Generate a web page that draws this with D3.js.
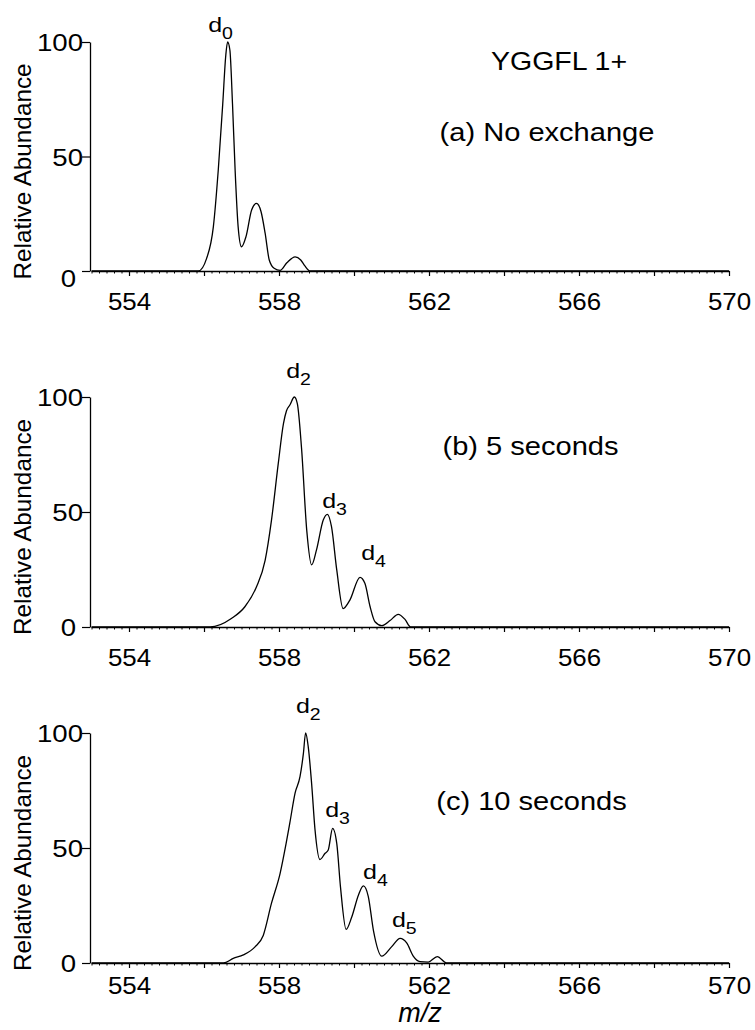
<!DOCTYPE html>
<html>
<head>
<meta charset="utf-8">
<script src="https://cdn.jsdelivr.net/npm/d3@7"></script>
<style>
  body { margin: 0; background: #fff; }
  text { font-family: "Liberation Sans", Arial, Helvetica, sans-serif; fill: #000; }
</style>
</head>
<body>
<script>
// ---------- data ----------
const mzA = [553, 555.85, 556.07, 556.25, 556.38, 556.50, 556.58, 556.63, 556.69, 556.76, 556.83, 556.91, 557.0, 557.12, 557.27, 557.40, 557.52, 557.63, 557.74, 557.87, 558.03, 558.21, 558.43, 558.58, 558.69, 558.83, 570];
const abA = [0, 0, 5.5, 19.4, 44, 73, 94, 100, 96.5, 73, 44, 19.4, 10.6, 15, 26.6, 29.5, 26, 16.5, 4.8, 1.2, 0.3, 3.6, 6.2, 4.8, 2.2, 0, 0];

const mzB = [553, 556.16, 556.74, 557.09, 557.40, 557.63, 557.80, 557.98, 558.12, 558.20, 558.29, 558.41, 558.49, 558.60, 558.74, 558.87, 559.0, 559.18, 559.29, 559.40, 559.54, 559.71, 559.89, 560.16, 560.29, 560.43, 560.56, 560.74, 560.96, 561.18, 561.36, 561.51, 570];
const abB = [0, 0, 3.8, 8.8, 17.5, 29, 46.5, 71, 88.5, 94, 96.5, 100, 97, 78, 42, 27, 33.5, 46.5, 49, 43.6, 24.8, 8, 11.7, 21.6, 19, 8.8, 2.3, 0.6, 2.8, 5.5, 3.3, 0, 0];

const mzC = [553, 556.52, 556.78, 557.05, 557.36, 557.58, 557.80, 558.03, 558.19, 558.29, 558.43, 558.56, 558.65, 558.71, 558.78, 558.87, 558.96, 559.09, 559.23, 559.31, 559.43, 559.54, 559.64, 559.79, 559.94, 560.12, 560.25, 560.38, 560.52, 560.74, 561.0, 561.23, 561.41, 561.58, 561.76, 561.98, 562.22, 562.47, 570];
const abC = [0, 0, 2, 3.5, 7, 12, 26, 39, 52, 61, 74, 81, 91, 100, 94, 78, 58, 45, 47.7, 49, 58.5, 52, 33, 14.6, 20, 29.6, 33.5, 29, 14, 3, 7, 10.7, 8.6, 3, 0.6, 0.4, 2.8, 0, 0];

// peak labels: [base, subscript, m/z of left edge, abundance of baseline]
const peakLabelsA = [["d", "0", 556.11, 104.4]];
const peakLabelsB = [["d", "2", 558.19, 108.3], ["d", "3", 559.15, 51.7], ["d", "4", 560.19, 29.1]];
const peakLabelsC = [["d", "2", 558.45, 108.7], ["d", "3", 559.23, 63.5], ["d", "4", 560.24, 36.5], ["d", "5", 561.01, 15.7]];

const panelTitles = ["(a) No exchange", "(b) 5 seconds", "(c) 10 seconds"];
const mainTitle = "YGGFL 1+";
const yTickValues = [0, 50, 100];
const xMajorTicks = [554, 556, 558, 560, 562, 564, 566, 568, 570];
const xLabelTicks = [554, 558, 562, 566, 570];
const yLabel = "Relative Abundance";
const xLabel = "m/z";

// ---------- layout ----------
const W = 755, H = 1030;
const svg = d3.select("body").append("svg").attr("width", W).attr("height", H);

const x = d3.scaleLinear().domain([553, 570]).range([91.5, 729]);
const axisX = 90;

const panels = [
  { mz: mzA, ab: abA, top: 42, bottom: 271, labels: peakLabelsA, tickDy: 39.5,
    title: panelTitles[0], titleX: 547, titleY: 141 },
  { mz: mzB, ab: abB, top: 397, bottom: 627, labels: peakLabelsB, tickDy: 39.5,
    title: panelTitles[1], titleX: 530.5, titleY: 455 },
  { mz: mzC, ab: abC, top: 733, bottom: 963, labels: peakLabelsC, tickDy: 31,
    title: panelTitles[2], titleX: 531.5, titleY: 810 }
];

function stretchedText(parent, str, px, py, size, sx, anchor, opts) {
  const g = parent.append("g").attr("transform", `translate(${px},${py}) scale(${sx},1)`);
  const t = g.append("text").attr("font-size", size).attr("text-anchor", anchor || "start");
  if (opts && opts.italic) t.attr("font-style", "italic");
  t.text(str);
  return t;
}

panels.forEach((p, i) => {
  const y = d3.scaleLinear().domain([0, 100]).range([p.bottom, p.top]);
  const g = svg.append("g");

  // minor ticks every 0.2
  const minor = d3.range(0, 86).map(k => +(553 + k * 0.2).toFixed(1));
  g.append("g")
    .attr("transform", `translate(0,${p.bottom})`)
    .call(d3.axisBottom(x).tickValues(minor).tickSize(2.5).tickSizeOuter(0).tickFormat(""))
    .call(s => s.selectAll("line").attr("stroke", "#000").attr("stroke-width", 1))
    .call(s => s.select(".domain").attr("stroke", "#000").attr("stroke-width", 1.4));

  // major ticks with labels
  const xa = g.append("g")
    .attr("transform", `translate(0,${p.bottom})`)
    .call(d3.axisBottom(x).tickValues(xMajorTicks).tickSize(5).tickSizeOuter(0)
      .tickFormat(d => xLabelTicks.includes(d) ? d : ""));
  xa.select(".domain").remove();
  xa.selectAll("line").attr("stroke", "#000").attr("stroke-width", 1.2);
  xa.selectAll("text")
    .attr("font-size", 24)
    .attr("font-family", "Liberation Sans, Arial, sans-serif")
    .attr("y", 0).attr("dy", p.tickDy)
    .attr("transform", "scale(1.08,1)");

  // y axis
  const ya = g.append("g")
    .attr("transform", `translate(${axisX},0)`)
    .call(d3.axisLeft(y).tickValues(yTickValues).tickSize(8).tickSizeOuter(0));
  ya.select(".domain").attr("stroke", "#000").attr("stroke-width", 1.3);
  ya.selectAll("line").attr("stroke", "#000").attr("stroke-width", 1.2);
  ya.selectAll("text")
    .attr("font-size", 24)
    .attr("font-family", "Liberation Sans, Arial, sans-serif")
    .attr("x", d => (d === 0 ? -14 : -7) / 1.15)
    .attr("dy", d => (d === 0 && i === 0) ? "0.65em" : "0.36em")
    .attr("transform", "scale(1.15,1)");

  // y label
  svg.append("text")
    .attr("transform", `translate(31,${(p.top + p.bottom) / 2 + 15}) rotate(-90)`)
    .attr("text-anchor", "middle")
    .attr("font-size", 24.3)
    .text(yLabel);

  // spectrum trace
  const line = d3.line()
    .x((d, k) => x(p.mz[k]))
    .y((d, k) => y(p.ab[k]))
    .curve(d3.curveMonotoneX);
  g.append("path")
    .datum(p.ab)
    .attr("d", line)
    .attr("fill", "none")
    .attr("stroke", "#000")
    .attr("stroke-width", 1.3)
    .attr("stroke-linejoin", "round");

  // peak labels
  p.labels.forEach(l => {
    const lg = g.append("g").attr("transform", `translate(${x(l[2])},${y(l[3])}) scale(1.22,1)`);
    const t = lg.append("text").attr("font-size", 20.5);
    t.append("tspan").text(l[0]);
    t.append("tspan").attr("font-size", 16).attr("dy", 7).text(l[1]);
  });

  // panel title
  stretchedText(g, p.title, p.titleX, p.titleY, 25.5, 1.14, "middle");
});

// main title
stretchedText(svg, mainTitle, 559, 70, 25.5, 1.12, "middle");

// x label
stretchedText(svg, xLabel, 420, 1022, 27, 1.0, "middle", { italic: true });
</script>
</body>
</html>
